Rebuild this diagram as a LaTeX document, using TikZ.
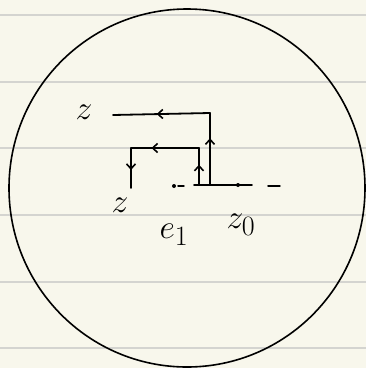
\documentclass[tikz,border=0pt]{standalone}
\usetikzlibrary{arrows.meta,decorations.markings}
\definecolor{paper}{HTML}{F8F7EC}
\definecolor{rule}{HTML}{D4D4D0}
\tikzset{
  ink/.style={line width=1.8pt,black,line cap=round,line join=round},
  midarrow/.style={postaction={decorate},decoration={markings,
    mark=at position #1 with {\arrow{Straight Barb[length=5pt,width=9pt,line width=1.6pt]}}}},
  lbl/.style={font=\Huge,inner sep=0pt,scale=1.35},
  dotmark/.style={fill=black,circle,inner sep=0pt,minimum size=4pt},
}
\begin{document}
\begin{tikzpicture}[x=1pt,y=-1pt]
\fill[paper] (0,0) rectangle (366,368);
\useasboundingbox (0,0) rectangle (366,368);
\foreach \yy in {15,82,148,215,282,348}
  \draw[rule,line width=1.8pt] (0,\yy) -- (366,\yy);
\draw[line width=1.6pt] (187,188) ellipse [x radius=178,y radius=179];
% corners
\coordinate (o0) at (210,185);
\coordinate (o1) at (210,113);
\coordinate (o2) at (113,115);
\coordinate (i0) at (199,185);
\coordinate (i1) at (199,148);
\coordinate (i2) at (131,148);
\coordinate (i3) at (131,188);
% axis
\node[dotmark] (d1) at (174,186) {};
\coordinate (a1) at (178,186);
\coordinate (a2) at (184,186);
\coordinate (s1) at (194,185);
\coordinate (s2) at (252,185);
\node[dotmark] (d2) at (238,185) {};
\coordinate (e1) at (268,186);
\coordinate (e2) at (280,186);
\draw[ink,line width=1.5pt] (a1) -- (a2);
\draw[ink] (s1) -- (s2);
\draw[ink,line width=1.5pt] (e1) -- (e2);
% paths
\draw[ink,midarrow=0.65] (o0) -- (o1);
\draw[ink,midarrow=0.55] (o1) -- (o2);
\draw[ink,midarrow=0.55] (i0) -- (i1);
\draw[ink,midarrow=0.7] (i1) -- (i2);
\draw[ink,midarrow=0.55] (i2) -- (i3);
% labels
\node[lbl] (zt) at (84,112) {$z$};
\node[lbl] (zb) at (120,205) {$z$};
\node[lbl] (e) at (174,235) {$e_1$};
\node[lbl] (z0) at (241,225) {$z_0$};
\end{tikzpicture}
\end{document}
